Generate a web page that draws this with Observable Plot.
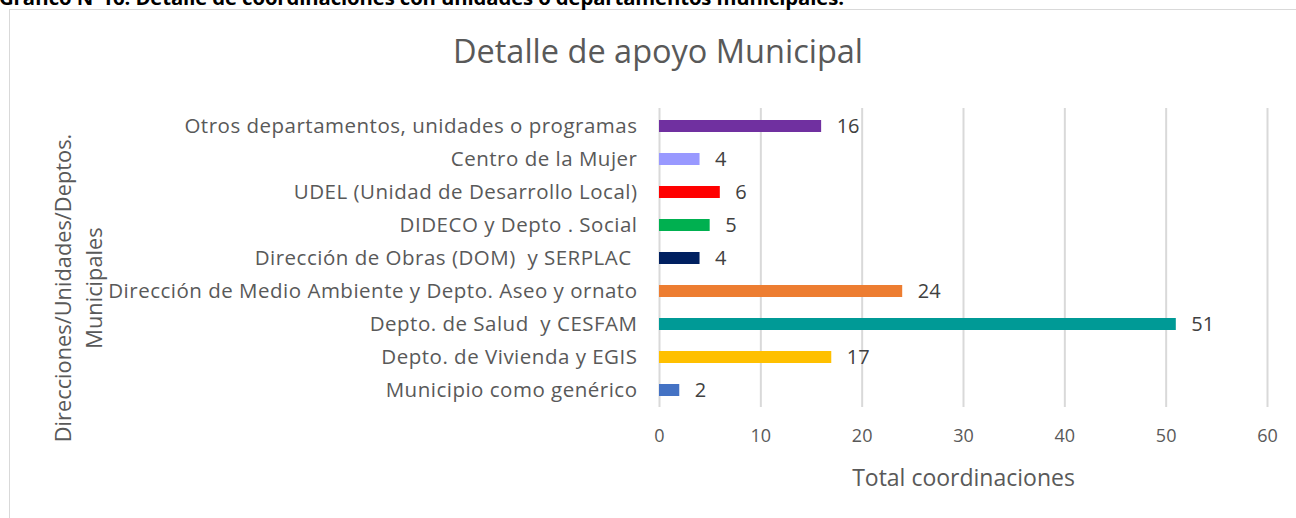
<!DOCTYPE html>
<html>
<head>
<meta charset="utf-8">
<script src="https://cdn.jsdelivr.net/npm/d3@7"></script>
<script src="https://cdn.jsdelivr.net/npm/@observablehq/plot@0.6"></script>
<style>
  html, body { margin: 0; padding: 0; background: #fff; }
  #wrap { position: relative; width: 1296px; height: 518px; overflow: hidden; font-family: "Open Sans", sans-serif; color: #595959; }
  #frame { position: absolute; left: 9px; top: 9px; width: 1400px; height: 600px; border: 1.5px solid #D9D9D9; box-sizing: border-box; }
  #doc-title { position: absolute; left: -1px; top: -13px; line-height: 20px; font-weight: bold; font-size: 20.3px; color: #000; white-space: nowrap; font-family: "Open Sans", sans-serif; letter-spacing: -0.1px; }
  #title { position: absolute; left: 0; width: 1316px; top: 29px; text-align: center; font-size: 32.5px; line-height: 44px; color: #595959; }
  #ylabel { position: absolute; left: 78px; top: 288px; transform: translate(-50%, -50%) rotate(-90deg); text-align: center; font-size: 21.8px; line-height: 31px; white-space: nowrap; color: #595959; }
  #chart { position: absolute; left: 0; top: 0; }
  #chart g[aria-label="y-axis tick label"] text { letter-spacing: 0.5px; }
</style>
</head>
<body>
<div id="wrap">
  <div id="frame"></div>
  <div id="doc-title">Gráfico N°16: Detalle de coordinaciones con unidades o departamentos municipales.</div>
  <div id="title">Detalle de apoyo Municipal</div>
  <div id="ylabel">Direcciones/Unidades/Deptos.<br>Municipales</div>
  <div id="chart"></div>
</div>
<script>
const categories = [
  "Otros departamentos, unidades o programas",
  "Centro de la Mujer",
  "UDEL (Unidad de Desarrollo Local)",
  "DIDECO y Depto . Social",
  "Dirección de Obras (DOM)  y SERPLAC ",
  "Dirección de Medio Ambiente y Depto. Aseo y ornato",
  "Depto. de Salud  y CESFAM",
  "Depto. de Vivienda y EGIS",
  "Municipio como genérico"
];
const values = [16, 4, 6, 5, 4, 24, 51, 17, 2];
const colors = ["#7030A0", "#9999FF", "#FF0000", "#00B050", "#002060", "#ED7D31", "#009A96", "#FFC000", "#4472C4"];
const xTicks = [0, 10, 20, 30, 40, 50, 60];

const data = categories.map((c, i) => ({category: c, value: values[i], color: colors[i]}));

const chart = Plot.plot({
  width: 1296,
  height: 518,
  marginLeft: 659,
  marginRight: 29,
  marginTop: 108,
  marginBottom: 111,
  style: {fontFamily: "Open Sans, sans-serif", fontSize: "18px", color: "#595959", background: "transparent"},
  x: {domain: [0, 60], ticks: xTicks, label: null},
  y: {domain: categories, paddingInner: 0.64, paddingOuter: 0.32, label: null},
  marks: [
    Plot.ruleX(xTicks, {stroke: "#D9D9D9", strokeWidth: 2}),
    Plot.barX(data, {x: "value", y: "category", fill: "color"}),
    Plot.text(data, {x: "value", y: "category", text: d => String(d.value), textAnchor: "start", dx: 15, dy: 0, fontSize: 20, fill: "#404040"}),
    Plot.axisX({ticks: xTicks, tickSize: 0, tickPadding: 22, fontSize: 18, fill: "#595959", label: null}),
    Plot.axisX({ticks: [], label: "Total coordinaciones", labelAnchor: "center", labelArrow: "none", labelOffset: 78, fontSize: 23, fill: "#595959"}),
    Plot.axisY({tickSize: 0, tickPadding: 22, fontSize: 20.5, fill: "#595959", label: null})
  ]
});
document.getElementById("chart").appendChild(chart);
</script>
</body>
</html>
